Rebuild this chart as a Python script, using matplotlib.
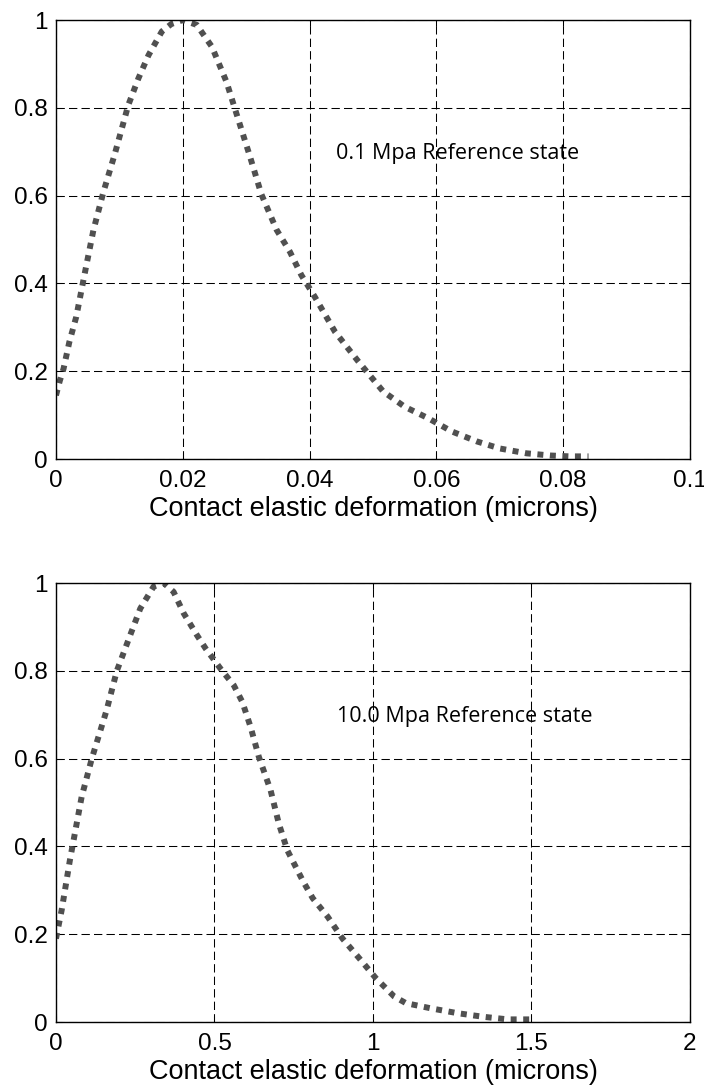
import matplotlib
matplotlib.use("Agg")
import matplotlib.pyplot as plt

# 0.1 MPa reference state
top_x = [0.0000, 0.0006, 0.0012, 0.0021, 0.0032, 0.0045, 0.0059, 0.0075, 0.0093, 0.0114,
         0.0130, 0.0146, 0.0167, 0.0182, 0.0200, 0.0222, 0.0246, 0.0269, 0.0287, 0.0306,
         0.0324, 0.0348, 0.0369, 0.0387, 0.0408, 0.0440, 0.0477, 0.0516, 0.0550, 0.0587,
         0.0624, 0.0664, 0.0700, 0.0742, 0.0780, 0.0810, 0.0840]
top_y = [0.145, 0.178, 0.206, 0.266, 0.324, 0.420, 0.521, 0.609, 0.696, 0.806,
         0.867, 0.920, 0.974, 0.991, 1.000, 0.989, 0.939, 0.859, 0.776, 0.689,
         0.603, 0.522, 0.472, 0.419, 0.370, 0.290, 0.222, 0.154, 0.119, 0.093,
         0.063, 0.040, 0.024, 0.013, 0.008, 0.006, 0.006]

# 10.0 MPa reference state
bot_x = [0.000, 0.018, 0.044, 0.081, 0.113, 0.160, 0.192, 0.234, 0.266, 0.308,
         0.340, 0.371, 0.403, 0.445, 0.472, 0.519, 0.561, 0.588, 0.614, 0.640,
         0.677, 0.703, 0.730, 0.751, 0.780, 0.810, 0.857, 0.904, 0.957, 1.009,
         1.067, 1.104, 1.184, 1.268, 1.347, 1.426, 1.510]
bot_y = [0.190, 0.255, 0.369, 0.513, 0.600, 0.711, 0.800, 0.881, 0.942, 0.992,
         1.000, 0.980, 0.931, 0.881, 0.851, 0.805, 0.767, 0.729, 0.672, 0.604,
         0.528, 0.452, 0.391, 0.361, 0.320, 0.282, 0.240, 0.190, 0.145, 0.100,
         0.058, 0.043, 0.031, 0.020, 0.012, 0.006, 0.006]

top_xticks = [0, 0.02, 0.04, 0.06, 0.08, 0.1]
top_xlabels = ['0', '0.02', '0.04', '0.06', '0.08', '0.1']
bot_xticks = [0, 0.5, 1, 1.5, 2]
bot_xlabels = ['0', '0.5', '1', '1.5', '2']
yticks = [0, 0.2, 0.4, 0.6, 0.8, 1]
ylabels = ['0', '0.2', '0.4', '0.6', '0.8', '1']

xlabel = 'Contact elastic deformation (microns)'
notes = ['0.1 Mpa Reference state', '10.0 Mpa Reference state']

plt.rcParams['font.family'] = ['Liberation Sans', 'DejaVu Sans']

fig = plt.figure(figsize=(7.04, 10.89), dpi=100)
ax1 = fig.add_axes([0.0795, 0.5785, 0.9006, 0.4031])
ax2 = fig.add_axes([0.0795, 0.0615, 0.9006, 0.4031])

panels = [
    (ax1, top_x, top_y, top_xticks, top_xlabels, 0.1, 0.0442, notes[0]),
    (ax2, bot_x, bot_y, bot_xticks, bot_xlabels, 2, 0.886, notes[1]),
]

for ax, xs, ys, xt, xl, xmax, nx, note in panels:
    ax.plot(xs, ys, color='#505050', lw=4.3, linestyle=(0, (1, 1.1)),
            solid_capstyle='butt', dash_capstyle='butt')
    ax.set_xlim(0, xmax)
    ax.set_ylim(0, 1)
    ax.set_xticks(xt)
    ax.set_xticklabels(xl)
    ax.set_yticks(yticks)
    ax.set_yticklabels(ylabels)
    ax.grid(True, color='black', lw=0.75, linestyle=(0, (8, 4)))
    ax.tick_params(direction='in', length=4, width=0.75, top=True, right=True,
                   labelsize=17.5, pad=6)
    ax.tick_params(axis='x', pad=8)
    for s in ax.spines.values():
        s.set_linewidth(1.0)
        s.set_color('black')
    ax.set_xlabel(xlabel, fontsize=19.5, labelpad=3)
    ax.text(nx, 0.695, note, fontsize=15.5, family=['Open Sans', 'DejaVu Sans'],
            va='center', ha='left')

fig.savefig('out.png', dpi=100)
